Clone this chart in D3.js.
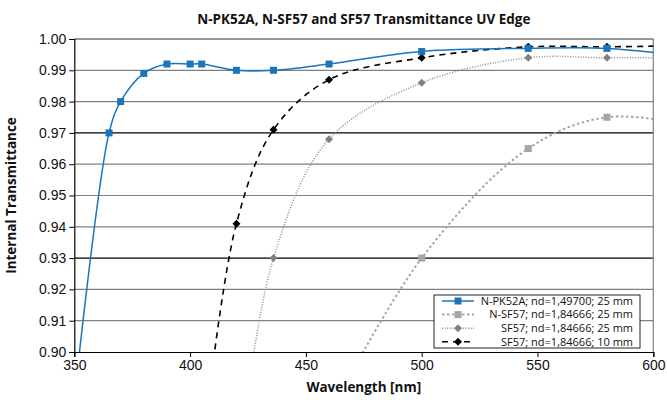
<!DOCTYPE html>
<html><head><meta charset="utf-8">
<script src="https://cdn.jsdelivr.net/npm/d3@7"></script>
<style>
html,body{margin:0;padding:0;background:#fff;}
svg{display:block;font-family:"Open Sans","Noto Sans",sans-serif;}
</style></head>
<body><svg id="c" width="667" height="400"></svg>
<script>
const title = "N-PK52A, N-SF57 and SF57 Transmittance UV Edge";
const xLabel = "Wavelength [nm]";
const yLabel = "Internal Transmittance";
const xTicks = [350, 400, 450, 500, 550, 600];
const yTicks = [0.90, 0.91, 0.92, 0.93, 0.94, 0.95, 0.96, 0.97, 0.98, 0.99, 1.00];

// N-PK52A; nd=1,49700; 25 mm
const pk52aWl = [350, 365, 370, 380, 390, 400, 405, 420, 436, 460, 500, 546, 580, 620];
const pk52aT  = [0.885, 0.970, 0.980, 0.989, 0.992, 0.992, 0.992, 0.990, 0.990, 0.992, 0.996, 0.997, 0.997, 0.994];
// N-SF57; nd=1,84666; 25 mm
const nsf57Wl = [460, 500, 546, 580, 620];
const nsf57T  = [0.880, 0.930, 0.965, 0.975, 0.972];
// SF57; nd=1,84666; 25 mm
const sf57_25Wl = [420, 436, 460, 500, 546, 580, 620];
const sf57_25T  = [0.859, 0.930, 0.968, 0.986, 0.994, 0.994, 0.994];
// SF57; nd=1,84666; 10 mm
const sf57_10Wl = [405, 420, 436, 460, 500, 546, 580, 620];
const sf57_10T  = [0.866, 0.941, 0.971, 0.987, 0.994, 0.9975, 0.9975, 0.998];

const series = [
  {name:"N-PK52A; nd=1,49700; 25 mm", wl:pk52aWl, t:pk52aT, color:"#1b75bc", width:1.5, dash:null, marker:"square", mcolor:"#1b75bc", msize:7},
  {name:"N-SF57; nd=1,84666; 25 mm", wl:nsf57Wl, t:nsf57T, color:"#a6a6a6", width:2, dash:"2.5,2.5", marker:"square", mcolor:"#a6a6a6", msize:7},
  {name:"SF57; nd=1,84666; 25 mm", wl:sf57_25Wl, t:sf57_25T, color:"#8c8c8c", width:1.5, dash:"1,1.6", marker:"diamond", mcolor:"#808080", msize:8},
  {name:"SF57; nd=1,84666; 10 mm", wl:sf57_10Wl, t:sf57_10T, color:"#000000", width:1.6, dash:"6,5", marker:"diamond", mcolor:"#000000", msize:8}
];

const svg = d3.select("#c");
const L = 74.3, R = 653.3, T = 39, B = 352;
const x = d3.scaleLinear().domain([350, 600]).range([L, R]);
const y = d3.scaleLinear().domain([0.90, 1.00]).range([B, T]);

svg.append("defs").append("clipPath").attr("id","clip")
  .append("rect").attr("x", L).attr("y", T).attr("width", R-L).attr("height", B-T);

// gridlines
const darkGrid = [0.93, 0.97];
svg.append("g").selectAll("line").data(yTicks.filter(d => d > 0.9 && d < 1.0)).join("line")
  .attr("x1", L).attr("x2", R)
  .attr("y1", d => y(d)).attr("y2", d => y(d))
  .attr("stroke", d => darkGrid.some(g => Math.abs(g-d) < 1e-9) ? "#000" : "#808080")
  .attr("stroke-width", 1.2);

// frame top/right
svg.append("line").attr("x1", L).attr("x2", R).attr("y1", y(1.0)).attr("y2", y(1.0)).attr("stroke","#333").attr("stroke-width",1.2);
svg.append("line").attr("x1", R).attr("x2", R).attr("y1", T).attr("y2", B).attr("stroke","#808080").attr("stroke-width",1.2);

// axes
const xAxis = d3.axisBottom(x).tickValues(xTicks).tickSize(5).tickPadding(3).tickFormat(d3.format("d"));
const gx = svg.append("g").attr("transform", `translate(0,${B})`).call(xAxis);
gx.select(".domain").attr("stroke","#000").attr("stroke-width",1.2);
gx.selectAll(".tick line").attr("stroke","#000");
gx.selectAll("text").attr("font-size", 14).attr("fill","#111");

const yAxis = d3.axisLeft(y).tickValues(yTicks).tickSize(5).tickPadding(3).tickFormat(d3.format(".2f"));
const gy = svg.append("g").attr("transform", `translate(${L},0)`).call(yAxis);
gy.select(".domain").attr("stroke","#000").attr("stroke-width",1.2);
gy.selectAll(".tick line").attr("stroke","#000");
gy.selectAll("text").attr("font-size", 14).attr("fill","#111");

// lines
const line = d3.line().x(d => x(d[0])).y(d => y(d[1])).curve(d3.curveCatmullRom.alpha(0.5));
const plot = svg.append("g").attr("clip-path","url(#clip)");
const drawOrder = [1, 2, 3, 0];
drawOrder.forEach(i => {
  const s = series[i];
  const pts = s.wl.map((w, k) => [w, s.t[k]]);
  plot.append("path").attr("d", line(pts)).attr("fill","none")
    .attr("stroke", s.color).attr("stroke-width", s.width)
    .attr("stroke-dasharray", s.dash);
});
function marker(g, s, cx, cy) {
  if (s.marker === "square") {
    g.append("rect").attr("x", cx - s.msize/2).attr("y", cy - s.msize/2)
      .attr("width", s.msize).attr("height", s.msize).attr("fill", s.mcolor);
  } else {
    const r = s.msize/2;
    g.append("path").attr("d", `M${cx},${cy-r}L${cx+r},${cy}L${cx},${cy+r}L${cx-r},${cy}Z`).attr("fill", s.mcolor);
  }
}
drawOrder.forEach(i => {
  const s = series[i];
  const g = svg.append("g");
  s.wl.forEach((w, k) => {
    const v = s.t[k];
    if (w >= 350 && w <= 600 && v >= 0.9 && v <= 1.0) marker(g, s, x(w), y(v));
  });
});

// legend
const lg = svg.append("g");
const lx = 434, ly = 295, lw = 206, lh = 53;
lg.append("rect").attr("x", lx).attr("y", ly).attr("width", lw).attr("height", lh)
  .attr("fill","#fff").attr("stroke","#222").attr("stroke-width",1);
series.forEach((s, i) => {
  const cy = ly + 6 + i * 13.6;
  lg.append("line").attr("x1", 442).attr("x2", 474).attr("y1", cy).attr("y2", cy)
    .attr("stroke", s.color).attr("stroke-width", s.width).attr("stroke-dasharray", s.dash);
  marker(lg, s, 458, cy);
  lg.append("text").attr("x", 633).attr("y", cy + 3.8).attr("text-anchor","end")
    .attr("font-size", 11).attr("fill","#111").text(s.name);
});

// titles
svg.append("text").attr("x", (L+R)/2).attr("y", 24).attr("text-anchor","middle")
  .attr("font-size", 13.5).attr("font-weight","bold").attr("fill","#111").text(title);
svg.append("text").attr("x", (L+R)/2).attr("y", 392).attr("text-anchor","middle")
  .attr("font-size", 13.5).attr("font-weight","bold").attr("fill","#111").text(xLabel);
svg.append("text").attr("transform", `translate(16,${(T+B)/2}) rotate(-90)`).attr("text-anchor","middle")
  .attr("font-size", 13.5).attr("font-weight","bold").attr("fill","#111").text(yLabel);
</script>
</body></html>
